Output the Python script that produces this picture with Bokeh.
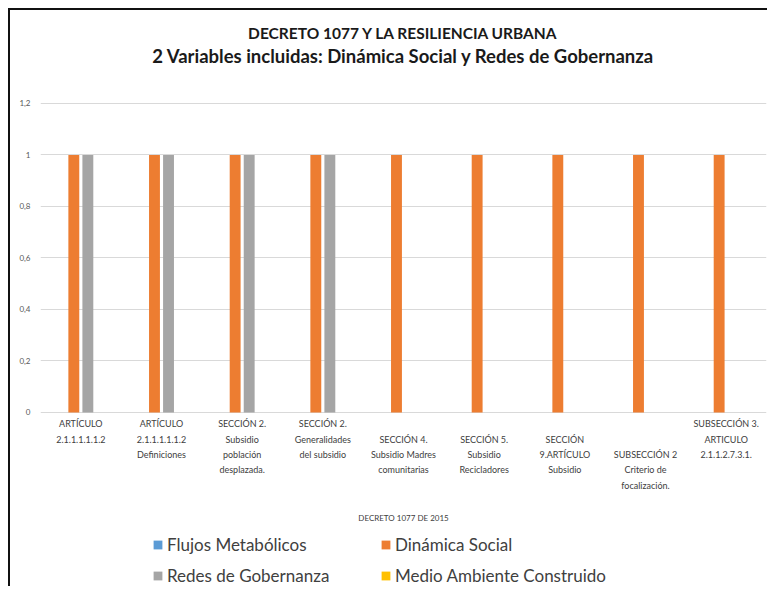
from bokeh.plotting import figure
from bokeh.models import Range1d, FixedTicker, Legend, LegendItem, Title, ColumnDataSource, FactorRange, Label
from bokeh.core.properties import value
from bokeh.transform import dodge
from bokeh.embed import file_html
from bokeh.resources import INLINE

categories = [
    "ARTÍCULO\n2.1.1.1.1.1.2",
    "ARTÍCULO\n2.1.1.1.1.1.2\nDefiniciones",
    "SECCIÓN 2.\nSubsidio\npoblación\ndesplazada.",
    "SECCIÓN 2.\nGeneralidades\ndel subsidio",
    "\nSECCIÓN 4.\nSubsidio Madres\ncomunitarias",
    "\nSECCIÓN 5.\nSubsidio\nRecicladores",
    "\nSECCIÓN\n9.ARTÍCULO\nSubsidio",
    "\n\nSUBSECCIÓN 2\nCriterio de\nfocalización.",
    "SUBSECCIÓN 3.\nARTICULO\n2.1.1.2.7.3.1.",
]
flujos = [0, 0, 0, 0, 0, 0, 0, 0, 0]
dinamica = [1, 1, 1, 1, 1, 1, 1, 1, 1]
redes = [1, 1, 1, 1, 0, 0, 0, 0, 0]
medio = [0, 0, 0, 0, 0, 0, 0, 0, 0]
y_ticks = [0, 0.2, 0.4, 0.6, 0.8, 1, 1.2]
y_tick_labels = ["0", "0,2", "0,4", "0,6", "0,8", "1", "1,2"]
title1 = "DECRETO 1077 Y LA RESILIENCIA URBANA"
title2 = "2 Variables incluidas: Dinámica Social y Redes de Gobernanza"
x_title = "DECRETO 1077 DE 2015"
series_names = ["Flujos Metabólicos", "Dinámica Social", "Redes de Gobernanza", "Medio Ambiente Construido"]
colors = ["#5B9BD5", "#ED7D31", "#A5A5A5", "#FFC000"]

FONT = "Lato"

source = ColumnDataSource(dict(cat=categories, flujos=flujos, dinamica=dinamica, redes=redes, medio=medio))

p = figure(
    frame_width=726, frame_height=514,
    x_range=FactorRange(*categories, range_padding=0),
    y_range=Range1d(-0.676, 1.32),
    output_backend="svg", toolbar_location=None,
    min_border_left=30, min_border_right=1, min_border_bottom=0, min_border_top=62,
)
p.styles = {"margin-left": "8px", "margin-top": "8px",
            "border-top": "2px solid #111", "border-left": "2px solid #111"}
p.outline_line_color = None
p.background_fill_color = "white"
p.border_fill_color = "white"

bw = 0.135
offsets = [-0.261, -0.087, 0.087, 0.261]
fields = ["flujos", "dinamica", "redes", "medio"]
renderers = []
for f, off, c in zip(fields, offsets, colors):
    r = p.vbar(x=dodge("cat", off, range=p.x_range), top=f, width=bw, source=source,
               fill_color=c, line_color=None)
    renderers.append(r)

# y axis
p.yaxis.ticker = FixedTicker(ticks=y_ticks)
p.yaxis.major_label_overrides = {t: l for t, l in zip(y_ticks, y_tick_labels)}
p.yaxis.axis_line_color = None
p.yaxis.major_tick_line_color = None
p.yaxis.minor_tick_line_color = None
p.yaxis.major_label_text_font = FONT
p.yaxis.major_label_text_font_size = "8px"
p.yaxis.major_label_text_color = "#595959"
p.yaxis.major_label_standoff = 4

# category axis drawn from the categorical scale (labels under the zero line)
p.xaxis.visible = False
p.text(x="cat", y=0, text="cat", source=source, text_align="center", text_baseline="top",
       y_offset=6, text_font=value(FONT), text_font_size="9px", text_color="#404040",
       text_line_height=1.39)
p.add_layout(Label(x=363, x_units="screen", y=0, y_units="data", y_offset=-106,
                   text=x_title, text_align="center", text_baseline="middle",
                   text_font=FONT, text_font_size="8px", text_color="#404040"))

p.xgrid.grid_line_color = None
p.ygrid.grid_line_color = "#D9D9D9"
p.ygrid.ticker = FixedTicker(ticks=y_ticks)

# titles
p.add_layout(Title(text=title2, align="center", text_font=FONT, text_font_size="18.5px",
                   text_font_style="bold", text_color="#1a1a1a", standoff=11), "above")
p.add_layout(Title(text=title1, align="center", text_font=FONT, text_font_size="15.5px",
                   text_font_style="bold", text_color="#1a1a1a", standoff=-8), "above")

# legend: two columns
def add_col(idxs, x):
    lg = Legend(
        items=[LegendItem(label=series_names[i], renderers=[renderers[i]]) for i in idxs],
        location=(x, 0),
        orientation="vertical",
        glyph_width=11, glyph_height=11,
        label_text_font=FONT, label_text_font_size="17px", label_text_color="#404040",
        label_standoff=4, spacing=10, padding=0, margin=0,
        border_line_color=None, background_fill_alpha=0,
    )
    p.add_layout(lg, "center")

add_col([0, 2], 112)
add_col([1, 3], 340)

open("out.html", "w").write(file_html(p, INLINE))
